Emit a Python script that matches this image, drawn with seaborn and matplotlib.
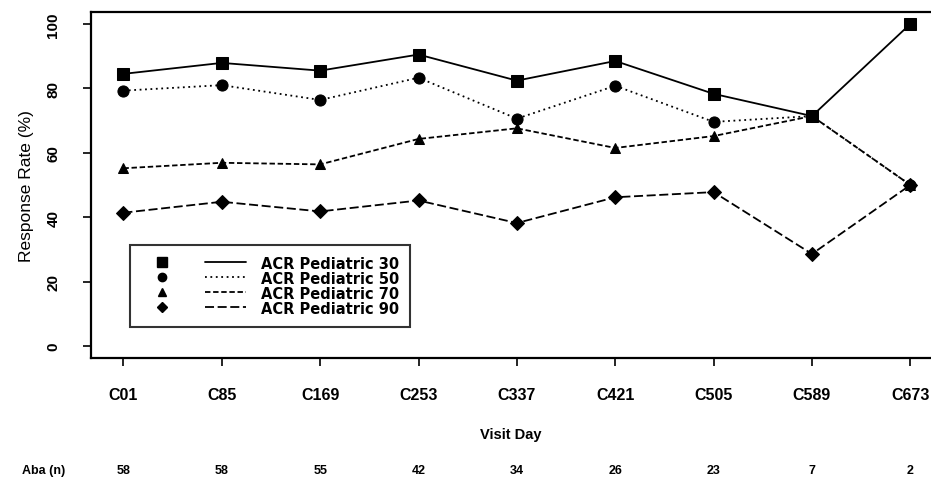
import numpy as np
import pandas as pd
import matplotlib
matplotlib.use("Agg")
import matplotlib.pyplot as plt
from matplotlib.lines import Line2D
import seaborn as sns

visits = ["C01", "C85", "C169", "C253", "C337", "C421", "C505", "C589", "C673"]
n_aba = ["58", "58", "55", "42", "34", "26", "23", "7", "2"]
series_names = ["ACR Pediatric 30", "ACR Pediatric 50", "ACR Pediatric 70", "ACR Pediatric 90"]
acr30 = [84.5, 87.9, 85.5, 90.5, 82.4, 88.5, 78.3, 71.4, 100.0]
acr50 = [79.3, 81.0, 76.4, 83.3, 70.6, 80.8, 69.6, 71.4, 50.0]
acr70 = [55.2, 56.9, 56.4, 64.3, 67.6, 61.5, 65.2, 71.4, 50.0]
acr90 = [41.4, 44.8, 41.8, 45.2, 38.2, 46.2, 47.8, 28.6, 50.0]
yticks = [0, 20, 40, 60, 80, 100]

sns.set_theme(style="white")
plt.rcParams["font.family"] = ["Liberation Sans", "DejaVu Sans"]
plt.rcParams["text.color"] = "black"
plt.rcParams["axes.labelcolor"] = "black"
plt.rcParams["xtick.color"] = "black"
plt.rcParams["ytick.color"] = "black"

rows = []
for name, vals in zip(series_names, [acr30, acr50, acr70, acr90]):
    for i, (v, val) in enumerate(zip(visits, vals)):
        rows.append({"pos": i, "visit": v, "rate": val, "series": name})
df = pd.DataFrame(rows)

markers = {series_names[0]: "s", series_names[1]: "o", series_names[2]: "^", series_names[3]: "D"}
msizes = {series_names[0]: 9, series_names[1]: 8, series_names[2]: 7, series_names[3]: 7}
lstyles = {series_names[0]: "-", series_names[1]: (0, (1, 2)), series_names[2]: (0, (3, 1.5)), series_names[3]: (0, (5, 2))}

fig = plt.figure(figsize=(9.31, 4.89), dpi=100)
ax = fig.add_axes([0.0977, 0.2658, 0.9023, 0.7076])

for name in series_names:
    sub = df[df.series == name]
    sns.lineplot(data=sub, x="pos", y="rate", ax=ax, color="black",
                 marker=markers[name], markersize=msizes[name], markeredgecolor="black",
                 linestyle=lstyles[name], linewidth=1.3, legend=False)

ax.set_xlim(-0.33, 8.21)
ax.set_ylim(-3.7, 103.7)
ax.set_xticks(range(len(visits)))
ax.set_xticklabels(visits, fontsize=11.5, fontweight="bold")
ax.set_yticks(yticks)
ax.set_yticklabels([str(t) for t in yticks], fontsize=11, fontweight="bold", rotation=90, va="center")
ax.tick_params(axis="both", direction="out", length=6, width=1.2, color="black", labelcolor="black",
               bottom=True, left=True)
ax.tick_params(axis="x", pad=15)
ax.tick_params(axis="y", pad=16)
for s in ["left", "top", "bottom"]:
    ax.spines[s].set_color("black")
    ax.spines[s].set_linewidth(1.6)
ax.spines["right"].set_visible(False)

ax.set_xlabel("Visit Day", fontsize=10.5, fontweight="bold", labelpad=18, color="black")
ax.set_ylabel("Response Rate (%)", fontsize=12.5, labelpad=9, color="black")

# Aba (n) row
yrow = (489 - 471) / 489
fig.text(0.024, yrow, "Aba (n)", fontsize=9, fontweight="bold", ha="left", va="center", color="black")
for i, n in enumerate(n_aba):
    x_disp = ax.transData.transform((i, 0))[0]
    xf = fig.transFigure.inverted().transform((x_disp, 0))[0]
    fig.text(xf, yrow, n, fontsize=9, fontweight="bold", ha="center", va="center", color="black")

# legend: marker column + line column
mh = [Line2D([], [], color="black", marker=markers[n], markersize=msizes[n] * 0.75, linestyle="none") for n in series_names]
lh = [Line2D([], [], color="black", linestyle=lstyles[n], linewidth=1.3) for n in series_names]
leg = ax.legend(mh + lh, [""] * 4 + series_names, ncol=2, loc="lower left",
                bbox_to_anchor=(0.038, 0.07), frameon=True, fancybox=False,
                edgecolor="black", handlelength=2.8, columnspacing=0.6,
                labelspacing=0.0, borderpad=0.75, handletextpad=1.0,
                prop={"family": "DejaVu Sans", "weight": "bold", "size": 10.5})
leg.get_frame().set_linewidth(1.5)
for t in leg.get_texts():
    t.set_color("black")

fig.savefig("out.png", dpi=100)
